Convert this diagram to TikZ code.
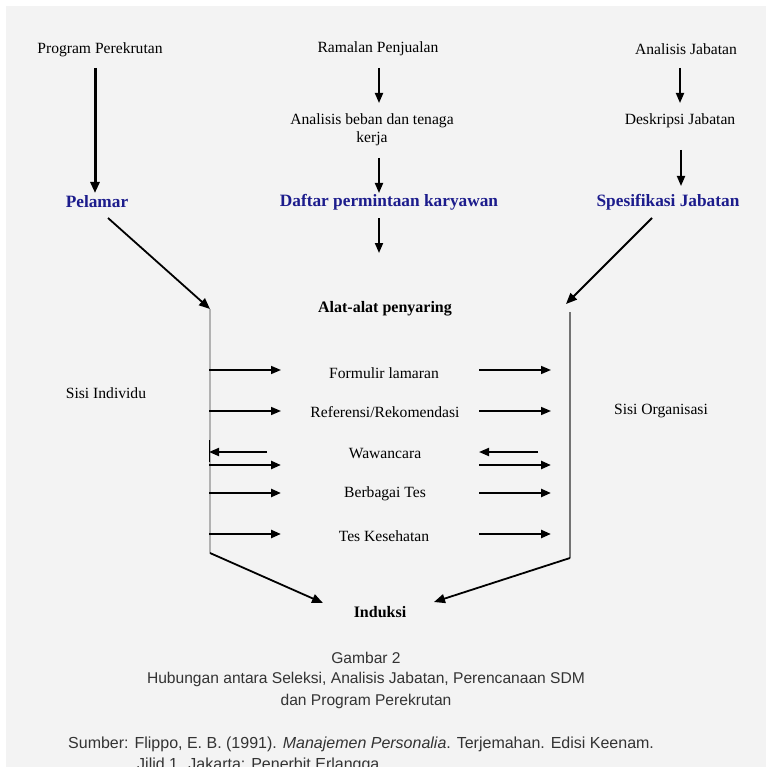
\documentclass[tikz,border=0pt]{standalone}
\usepackage{fontspec}
\setmainfont{Liberation Serif}
\setsansfont{Liberation Sans}
\usetikzlibrary{arrows.meta}
\definecolor{bggray}{HTML}{F3F3F3}
\definecolor{navyblue}{HTML}{1C1C8C}
\definecolor{captgray}{HTML}{333333}
\begin{document}
\begin{tikzpicture}[x=1pt,y=-1pt,
  txt/.style={font=\fontsize{15.6}{17.5}\selectfont, inner sep=0pt, align=center},
  bluetxt/.style={font=\fontsize{17.3}{19}\selectfont\bfseries, text=navyblue, inner sep=0pt},
  boldtxt/.style={font=\fontsize{16}{18}\selectfont\bfseries, inner sep=0pt},
  capt/.style={font=\sffamily\fontsize{15.6}{17}\selectfont, text=captgray, inner sep=0pt},
  src/.style={font=\sffamily\fontsize{16}{18}\selectfont, text=captgray, inner sep=0pt, anchor=west},
  arr/.style={line width=1.8pt, -{Triangle[length=10pt,width=8pt]}},
  thickarr/.style={line width=3pt, -{Triangle[length=11pt,width=9pt]}},
  diag/.style={line width=1.8pt, -{Triangle[length=11pt,width=9pt]}},
]
\useasboundingbox (0,0) rectangle (766,767);
\fill[white] (0,0) rectangle (766,767);
\fill[bggray] (6,6) rectangle (766,767);

% top texts
\node[txt] (prog) at (100,50) {Program Perekrutan};
\node[txt] (ramal) at (378,49) {Ramalan Penjualan};
\node[txt] (anjab) at (686,49) {Analisis Jabatan};
\node[txt] (beban) at (372,130) {Analisis beban dan tenaga\\kerja};
\node[txt] (deskr) at (680,121) {Deskripsi Jabatan};
\node[bluetxt] (pelamar) at (97,202) {Pelamar};
\node[bluetxt] (daftar) at (389,202) {Daftar permintaan karyawan};
\node[bluetxt] (spes) at (668,202) {Spesifikasi Jabatan};
\node[boldtxt] (alat) at (385,309) {Alat-alat penyaring};

% top arrows
\coordinate (a1s) at (95,68);  \coordinate (a1e) at (95,193);
\coordinate (a2s) at (379,68); \coordinate (a2e) at (379,103);
\coordinate (a3s) at (379,158); \coordinate (a3e) at (379,193);
\coordinate (a4s) at (379,218); \coordinate (a4e) at (379,253);
\coordinate (a5s) at (680,68); \coordinate (a5e) at (680,103);
\coordinate (a6s) at (681,150); \coordinate (a6e) at (681,186);
\draw[thickarr] (a1s) -- (a1e);
\draw[arr] (a2s) -- (a2e);
\draw[arr] (a3s) -- (a3e);
\draw[arr] (a4s) -- (a4e);
\draw[arr] (a5s) -- (a5e);
\draw[arr] (a6s) -- (a6e);

% side lines
\coordinate (Ltop) at (210,309); \coordinate (Lbot) at (210,553);
\coordinate (Rtop) at (570,312); \coordinate (Rbot) at (570,558);
\draw[line width=1.4pt, color=black!30] (Ltop) -- (Lbot);
\draw[line width=1.6pt, color=black!55] (Rtop) -- (Rbot);

% diagonals in
\coordinate (d1s) at (108,218);
\coordinate (d2s) at (652,218); \coordinate (d2e) at (566,304);
\draw[diag] (d1s) -- (Ltop);
\draw[diag] (d2s) -- (d2e);

% side labels
\node[txt] (sisiind) at (106,393) {Sisi Individu};
\node[txt] (sisiorg) at (661,411) {Sisi Organisasi};

% rows
\node[txt] (form) at (384,373) {Formulir lamaran};
\node[txt] (ref) at (385,412) {Referensi/Rekomendasi};
\node[txt] (waw) at (385,454) {Wawancara};
\node[txt] (tes) at (385,494) {Berbagai Tes};
\node[txt] (kes) at (384,536) {Tes Kesehatan};

\foreach \y/\w in {370/1.6pt, 411/1.6pt, 465/2.4pt, 493/2.4pt, 534/2.4pt}{
  \draw[line width=\w, -{Triangle[length=10pt,width=8pt]}] (209,\y) -- (281,\y);
  \draw[line width=\w, -{Triangle[length=10pt,width=8pt]}] (479,\y) -- (551,\y);
}
\draw[line width=1.8pt, -{Triangle[length=10pt,width=8pt]}] (267,452) -- (209,452);
\draw[line width=1.8pt, -{Triangle[length=10pt,width=8pt]}] (538,452) -- (479,452);
\draw[line width=0.8pt] (209,440) -- (209,462);

% bottom
\node[boldtxt] (induksi) at (380,612) {Induksi};
\coordinate (b1e) at (323,603);
\coordinate (b2e) at (434,602);
\draw[diag] (Lbot) -- (b1e);
\draw[diag] (Rbot) -- (b2e);

% caption
\node[capt] (g2) at (366,658) {Gambar 2};
\node[capt] (cap1) at (366,679) {Hubungan antara Seleksi, Analisis Jabatan, Perencanaan SDM};
\node[capt] (cap2) at (366,701) {dan Program Perekrutan};
\node[src] (src1) at (68,744) {Sumber: Flippo, E. B. (1991). \textit{Manajemen Personalia}. Terjemahan. Edisi Keenam.};
\node[src] (src2) at (137,765) {Jilid 1. Jakarta: Penerbit Erlangga.};
\end{tikzpicture}
\end{document}
